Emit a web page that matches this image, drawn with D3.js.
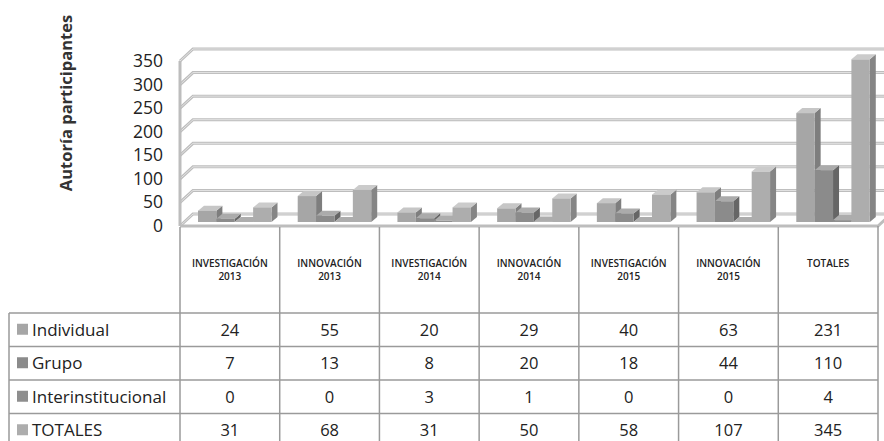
<!DOCTYPE html>
<html lang="es">
<head>
    <meta charset="UTF-8">
    <title>Autoría participantes</title>
    <style>
        body { margin: 0; background: #fff; }
        text { font-family: "Open Sans", sans-serif; fill: #222; }
    </style>
</head>
<body>
<script src='https://d3js.org/d3.v7.min.js' type='text/javascript'></script>
<script>
    // data
    var categories = ["INVESTIGACIÓN 2013", "INNOVACIÓN 2013", "INVESTIGACIÓN 2014", "INNOVACIÓN 2014",
        "INVESTIGACIÓN 2015", "INNOVACIÓN 2015", "TOTALES"];
    var seriesNames = ["Individual", "Grupo", "Interinstitucional", "TOTALES"];
    var individual = [24, 55, 20, 29, 40, 63, 231];
    var grupo = [7, 13, 8, 20, 18, 44, 110];
    var interinst = [0, 0, 3, 1, 0, 0, 4];
    var totales = [31, 68, 31, 50, 58, 107, 345];
    var yTicks = [0, 50, 100, 150, 200, 250, 300, 350];

    var series = [individual, grupo, interinst, totales];
    var front = ["#a6a6a6", "#8b8b8b", "#8e8e8e", "#adadad"];
    var side = ["#7e7e7e", "#666", "#6a6a6a", "#858585"];
    var topc = ["#c6c6c6", "#ababab", "#adadad", "#cbcbcb"];

    const W = 884, H = 441;
    const svg = d3.select("body").append("svg")
        .attr("width", W).attr("height", H);

    const x = d3.scaleBand().domain(categories).range([180, 878]).paddingInner(0).paddingOuter(0);
    const y = d3.scaleLinear().domain([0, 350]).range([226, 61]);
    const bx = d3.scaleBand().domain(d3.range(4)).range([18, 91.5]).padding(0);
    const dX = 13, dY = -12;      // wall depth
    const bdX = 6, bdY = -5;      // bar depth
    const barShift = -4;          // bars stand a bit behind the front edge

    // walls and gridlines
    var grid = svg.append("g").attr("fill", "none");
    yTicks.forEach(function (t) {
        var yy = y(t);
        grid.append("path")
            .attr("d", "M180," + yy + "L" + (180 + dX) + "," + (yy + dY) + "L" + (W + 5) + "," + (yy + dY))
            .attr("stroke", "#bdbdbd").attr("stroke-width", 3);
        grid.append("path")
            .attr("d", "M180," + yy + "L" + (180 + dX) + "," + (yy + dY) + "L" + (W + 5) + "," + (yy + dY))
            .attr("stroke", "#e4e4e4").attr("stroke-width", 1);
    });
    grid.append("line").attr("x1", 180).attr("x2", 180).attr("y1", y(0)).attr("y2", y(350))
        .attr("stroke", "#bdbdbd").attr("stroke-width", 3);
    // floor front edge
    grid.append("path")
        .attr("d", "M180," + y(0) + "L878," + y(0) + "L" + (878 + dX) + "," + (y(0) + dY))
        .attr("stroke", "#bdbdbd").attr("stroke-width", 3);

    // y labels
    svg.append("g").selectAll("text").data(yTicks).enter().append("text")
        .attr("x", 163).attr("y", function (d) { return y(d) + 6; })
        .attr("text-anchor", "end").style("font-size", "17.5px")
        .text(function (d) { return d; });

    svg.append("text")
        .attr("transform", "translate(72,103) rotate(-90)")
        .attr("text-anchor", "middle").style("font-size", "16.5px").style("font-weight", "bold")
        .style("fill", "#333")
        .text("Autoría participantes");

    // bars
    var bars = svg.append("g");
    categories.forEach(function (c, ci) {
        series.forEach(function (s, si) {
            var x0 = x(c) + bx(si), w = bx.bandwidth();
            var yb = y(0) + barShift, yt = y(s[ci]) + barShift;
            var g = bars.append("g");
            g.append("path").attr("fill", side[si])
                .attr("d", "M" + (x0 + w) + "," + yt + "L" + (x0 + w + bdX) + "," + (yt + bdY) +
                    "L" + (x0 + w + bdX) + "," + (yb + bdY) + "L" + (x0 + w) + "," + yb + "Z");
            g.append("path").attr("fill", topc[si])
                .attr("d", "M" + x0 + "," + yt + "L" + (x0 + bdX) + "," + (yt + bdY) +
                    "L" + (x0 + w + bdX) + "," + (yt + bdY) + "L" + (x0 + w) + "," + yt + "Z");
            g.append("rect").attr("fill", front[si])
                .attr("x", x0).attr("y", yt).attr("width", w).attr("height", Math.max(yb - yt, 0));
        });
    });

    // data table
    var rowTop = 313, rowH = 33.5;
    var tbl = svg.append("g");
    var lineCol = "#9a9a9a";
    x.domain().forEach(function (c) {
        tbl.append("line").attr("x1", x(c)).attr("x2", x(c)).attr("y1", 227).attr("y2", H)
            .attr("stroke", lineCol).attr("stroke-width", 1.5);
    });
    tbl.append("line").attr("x1", 878).attr("x2", 878).attr("y1", 226).attr("y2", H)
        .attr("stroke", lineCol).attr("stroke-width", 1.5);
    tbl.append("line").attr("x1", 9).attr("x2", 9).attr("y1", rowTop).attr("y2", H)
        .attr("stroke", lineCol).attr("stroke-width", 1.5);
    d3.range(4).forEach(function (r) {
        tbl.append("line").attr("x1", 9).attr("x2", 878)
            .attr("y1", rowTop + r * rowH).attr("y2", rowTop + r * rowH)
            .attr("stroke", lineCol).attr("stroke-width", 1.5);
    });

    // category labels, two lines each
    categories.forEach(function (c) {
        var parts = c.split(" ");
        var cx = x(c) + x.bandwidth() / 2;
        parts.forEach(function (p, i) {
            tbl.append("text").attr("text-anchor", "middle")
                .attr("x", cx).attr("y", 267 + i * 12.5)
                .style("font-size", "10px").style("font-weight", "600")
                .text(p);
        });
    });

    // rows
    seriesNames.forEach(function (name, si) {
        var cy = rowTop + si * rowH + rowH / 2;
        tbl.append("rect").attr("x", 17).attr("y", cy - 6).attr("width", 11).attr("height", 11)
            .attr("fill", front[si]);
        tbl.append("text").attr("x", 32).attr("y", cy + 6).style("font-size", "17px").text(name);
        categories.forEach(function (c, ci) {
            tbl.append("text").attr("text-anchor", "middle")
                .attr("x", x(c) + x.bandwidth() / 2).attr("y", cy + 6)
                .style("font-size", "16.5px").text(series[si][ci]);
        });
    });
</script>
</body>
</html>
